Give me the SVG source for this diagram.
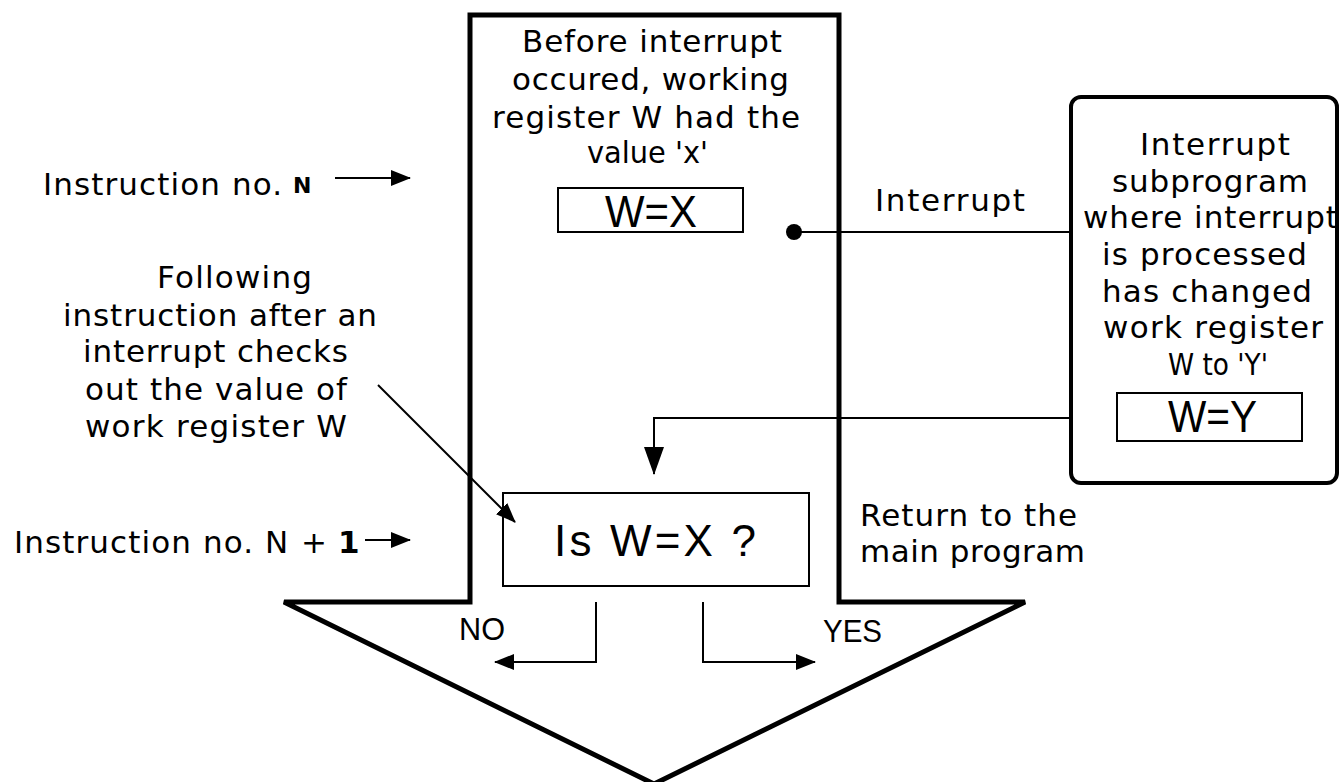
<svg xmlns="http://www.w3.org/2000/svg" width="1340" height="782" viewBox="0 0 1340 782">
<style>
.t{font-family:"DejaVu Sans",Verdana,sans-serif;font-size:31px;fill:#000}
.b{font-family:"DejaVu Sans",Verdana,sans-serif;font-weight:bold;fill:#000}
.w{font-family:"Liberation Sans",Arial,sans-serif;font-size:44px;fill:#000}
.s{font-family:"Liberation Sans",Arial,sans-serif;font-size:32px;fill:#000}
.thin{fill:none;stroke:#000;stroke-width:2}
.thick{fill:#fff;stroke:#000;stroke-width:5}
</style>
<defs>
<marker id="ah" markerUnits="userSpaceOnUse" markerWidth="20" markerHeight="18" refX="19" refY="9" orient="auto"><path d="M0,1 L20,9 L0,17 z" fill="#000"/></marker>
<marker id="ahBig" markerUnits="userSpaceOnUse" markerWidth="28" markerHeight="22" refX="27" refY="11" orient="auto"><path d="M0,1 L28,11 L0,21 z" fill="#000"/></marker>
</defs>
<rect width="1340" height="782" fill="#fff"/>

<g id="main-flow">
<polygon class="thick" points="470,15 839,15 839,602 1025,602 654,784 284,602 470,602" stroke-miterlimit="4"/>
<text class="t" x="522" y="52" textLength="260" lengthAdjust="spacing">Before interrupt</text>
<text class="t" x="512" y="90" textLength="277" lengthAdjust="spacing">occured, working</text>
<text class="t" x="492" y="128" textLength="308" lengthAdjust="spacing">register W had the</text>
<text class="t" x="587" y="163" textLength="121" lengthAdjust="spacingAndGlyphs">value 'x'</text>
</g>

<g id="box-wx">
<rect class="thin" x="558" y="188" width="185" height="44"/>
<text class="w" x="605" y="227" textLength="92" lengthAdjust="spacingAndGlyphs">W=X</text>
</g>

<g id="decision">
<rect class="thin" x="503" y="493" width="306" height="93"/>
<text class="w" x="554" y="556" font-size="43" textLength="202" lengthAdjust="spacing">Is W=X ?</text>
</g>

<g id="interrupt-sub">
<rect x="1071" y="97" width="266" height="386" rx="10" fill="#fff" stroke="#000" stroke-width="4"/>
<text class="t" x="1140" y="155" textLength="150" lengthAdjust="spacing">Interrupt</text>
<text class="t" x="1112" y="192" textLength="196" lengthAdjust="spacing">subprogram</text>
<text class="t" x="1083" y="228" textLength="255" lengthAdjust="spacing">where interrupt</text>
<text class="t" x="1102" y="265" textLength="205" lengthAdjust="spacing">is processed</text>
<text class="t" x="1102" y="302" textLength="210" lengthAdjust="spacing">has changed</text>
<text class="t" x="1103" y="338" textLength="220" lengthAdjust="spacing">work register</text>
<text class="t" x="1168" y="375" textLength="100" lengthAdjust="spacingAndGlyphs">W to 'Y'</text>
</g>

<g id="box-wy">
<rect class="thin" x="1117" y="393" width="185" height="48"/>
<text class="w" x="1168" y="432" textLength="89" lengthAdjust="spacingAndGlyphs">W=Y</text>
</g>

<g id="label-instr-n">
<text class="t" x="43" y="195" textLength="239" lengthAdjust="spacing">Instruction no.</text>
<text class="b" x="293" y="193" font-size="22">N</text>
</g>

<g id="label-instr-n1">
<text class="t" x="14" y="553" textLength="239" lengthAdjust="spacing">Instruction no.</text>
<text class="t" x="265" y="553">N</text>
<text class="t" x="301" y="553">+</text>
<text class="b" x="338" y="553" font-size="31">1</text>
</g>

<g id="label-following">
<text class="t" x="157" y="288" textLength="155" lengthAdjust="spacing">Following</text>
<text class="t" x="63" y="326" textLength="314" lengthAdjust="spacing">instruction after an</text>
<text class="t" x="83" y="362" textLength="265" lengthAdjust="spacing">interrupt checks</text>
<text class="t" x="85" y="400" textLength="262" lengthAdjust="spacing">out the value of</text>
<text class="t" x="85" y="437" textLength="262" lengthAdjust="spacing">work register W</text>
</g>

<g id="label-return">
<text class="t" x="860" y="526" textLength="217" lengthAdjust="spacing">Return to the</text>
<text class="t" x="860" y="562" textLength="225" lengthAdjust="spacing">main program</text>
</g>

<g id="label-interrupt">
<text class="t" x="875" y="211" textLength="150" lengthAdjust="spacing">Interrupt</text>
</g>

<g id="label-no"><text class="s" x="459" y="640" textLength="46" lengthAdjust="spacingAndGlyphs">NO</text></g>
<g id="label-yes"><text class="s" x="823" y="642" textLength="59" lengthAdjust="spacingAndGlyphs">YES</text></g>

<g id="connectors">
<line class="thin" x1="335" y1="178" x2="410" y2="178" marker-end="url(#ah)"/>
<line class="thin" x1="365" y1="540" x2="410" y2="540" marker-end="url(#ah)"/>
<line class="thin" x1="378" y1="385" x2="515" y2="522" stroke-width="1.5" marker-end="url(#ah)"/>
<circle cx="794" cy="232" r="8" fill="#000"/>
<line class="thin" x1="794" y1="232" x2="1071" y2="232"/>
<polyline class="thin" points="1071,418 654,418 654,474" marker-end="url(#ahBig)"/>
<polyline class="thin" points="596,602 596,662 495,662" marker-end="url(#ah)"/>
<polyline class="thin" points="703,602 703,662 815,662" marker-end="url(#ah)"/>
</g>
</svg>
